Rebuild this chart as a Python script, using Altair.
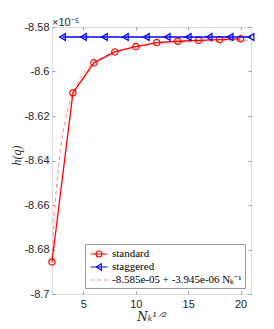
import altair as alt
import pandas as pd
import numpy as np

# values in units of 1e-5
std_x = [2, 4, 6, 8, 10, 12, 14, 16, 18, 20]
std_y = [-8.6856, -8.6096, -8.5961, -8.5912, -8.5888, -8.5870, -8.5864, -8.5860, -8.5857, -8.5853]
stg_x = [3, 5, 7, 9, 11, 13, 15, 17, 19, 21]
stg_y = [-8.5845, -8.5845, -8.5845, -8.5845, -8.5845, -8.5845, -8.5845, -8.5845, -8.5845, -8.5845]
# fit from legend: -8.585e-05 + -3.945e-06 N^-1, N = x^2
fit_c0 = -8.585
fit_c1 = -0.3945
fit_x = np.linspace(2, 21, 120)
fit_y = fit_c0 + fit_c1 / fit_x**2

names = ["standard", "staggered", "-8.585e-05 + -3.945e-06 N\u2096\u207b\u00b9"]
colors = ["#ff0000", "#0000ff", "#ff8c8c"]

std = pd.DataFrame({"x": std_x, "y": std_y})
stg = pd.DataFrame({"x": stg_x, "y": stg_y})
fit = pd.DataFrame({"x": fit_x, "y": fit_y})
leg = pd.DataFrame({"series": names})

W, H = 199, 267
xs = alt.Scale(domain=[2, 21], nice=False, zero=False)
ys = alt.Scale(domain=[-8.70, -8.58], nice=False, zero=False)
xt = [5, 10, 15, 20]
yt = [-8.70, -8.68, -8.66, -8.64, -8.62, -8.60, -8.58]
lab = "replace(format(datum.value, '.2~f'), '\u2212', '-')"
tc = "#9a9a9a"

fit_layer = alt.Chart(fit).mark_line(color=colors[2], strokeDash=[4, 3], strokeWidth=1).encode(
    x=alt.X("x:Q", scale=xs, axis=alt.Axis(orient="bottom", values=xt, ticks=False, domain=False, grid=False,
                                            labelFont="Liberation Sans", labelFontSize=11, labelColor="#262626",
                                            labelPadding=4, title="N\u2096\u00b9\u141f\u00b2",
                                            titleFont="DejaVu Serif", titleFontStyle="italic", titleFontSize=12,
                                            titleFontWeight="normal", titleColor="#262626", titlePadding=2)),
    y=alt.Y("y:Q", scale=ys, axis=alt.Axis(orient="left", values=yt, ticks=False, domain=False, grid=False,
                                            labelExpr=lab, labelFont="Liberation Sans", labelFontSize=11,
                                            labelColor="#262626", labelPadding=3, title="h(q)",
                                            titleFont="Liberation Serif", titleFontSize=12, titleFontStyle="italic",
                                            titleFontWeight="normal", titleColor="#262626",
                                            titleX=-36, titleY=128, titleAngle=270, titleBaseline="middle",
                                            titleAlign="center")),
)

std_line = alt.Chart(std).mark_line(color=colors[0], strokeWidth=1.3).encode(
    x=alt.X("x:Q", scale=xs, axis=alt.Axis(orient="top", offset=-H, values=xt, labels=False, domain=False,
                                            grid=False, tickSize=3, tickColor=tc, title=None)),
    y=alt.Y("y:Q", scale=ys, axis=alt.Axis(orient="right", offset=-W, values=yt, labels=False, domain=False,
                                            grid=False, tickSize=3, tickColor=tc, title=None)),
)
std_pt = alt.Chart(std).mark_point(color=colors[0], shape="circle", size=40, filled=False, opacity=1,
                                   strokeWidth=1.2).encode(
    x=alt.X("x:Q", scale=xs, axis=alt.Axis(orient="bottom", offset=-H, values=xt, labels=False, domain=False,
                                            grid=False, tickSize=3, tickColor=tc, title=None)),
    y=alt.Y("y:Q", scale=ys, axis=alt.Axis(orient="left", offset=-W, values=yt, labels=False, domain=False,
                                            grid=False, tickSize=3, tickColor=tc, title=None)),
)
stg_line = alt.Chart(stg).mark_line(color=colors[1], strokeWidth=1.3).encode(
    x=alt.X("x:Q", scale=xs, axis=None),
    y=alt.Y("y:Q", scale=ys, axis=None),
)
stg_pt = alt.Chart(stg).mark_point(color=colors[1], shape="triangle-left", size=45, filled=False, opacity=1,
                                   strokeWidth=1.2).encode(
    x=alt.X("x:Q", scale=xs, axis=None),
    y=alt.Y("y:Q", scale=ys, axis=None),
)

p_circ = "M-1.4,0H1.4M-0.5,0A0.5,0.5,0,1,0,0.5,0A0.5,0.5,0,1,0,-0.5,0"
p_tri = "M-1.4,0H1.4M-0.45,0L0.4,-0.55L0.4,0.55Z"
p_dash = "M-1.4,0H-0.75M-0.3,0H0.35M0.8,0H1.4"

legend = alt.Legend(title=None, orient="bottom-right", offset=6, fillColor="white", strokeColor="#9a9a9a",
                    padding=3, symbolSize=144, symbolStrokeWidth=1.1, symbolOpacity=1, symbolOffset=4,
                    labelFont="Liberation Serif", labelFontSize=11, labelColor="#000000", labelLimit=300,
                    rowPadding=0, labelOffset=6)
leg_layer = alt.Chart(leg).mark_point(opacity=0, filled=False).encode(
    x=alt.value(0), y=alt.value(0),
    color=alt.Color("series:N", scale=alt.Scale(domain=names, range=colors), legend=legend, sort=names),
    shape=alt.Shape("series:N", scale=alt.Scale(domain=names, range=[p_circ, p_tri, p_dash]), legend=legend,
                    sort=names),
)

chart = alt.layer(fit_layer, std_line, std_pt, stg_line, stg_pt, leg_layer).resolve_axis(
    x="independent", y="independent"
).properties(
    width=W, height=H,
    title=alt.TitleParams("\u00d710\u207b\u2075", anchor="start", frame="group", font="Liberation Sans",
                          fontSize=11, fontWeight="normal", color="#262626", offset=2, baseline="bottom",
                          dy=20),
    autosize=alt.AutoSizeParams(type="none"),
    padding={"left": 44, "top": 19, "right": 15, "bottom": 28},
).configure_view(stroke="#9a9a9a", strokeWidth=1).configure(background="white")

chart.save("out.html", embed_options={"renderer": "svg", "actions": False})
